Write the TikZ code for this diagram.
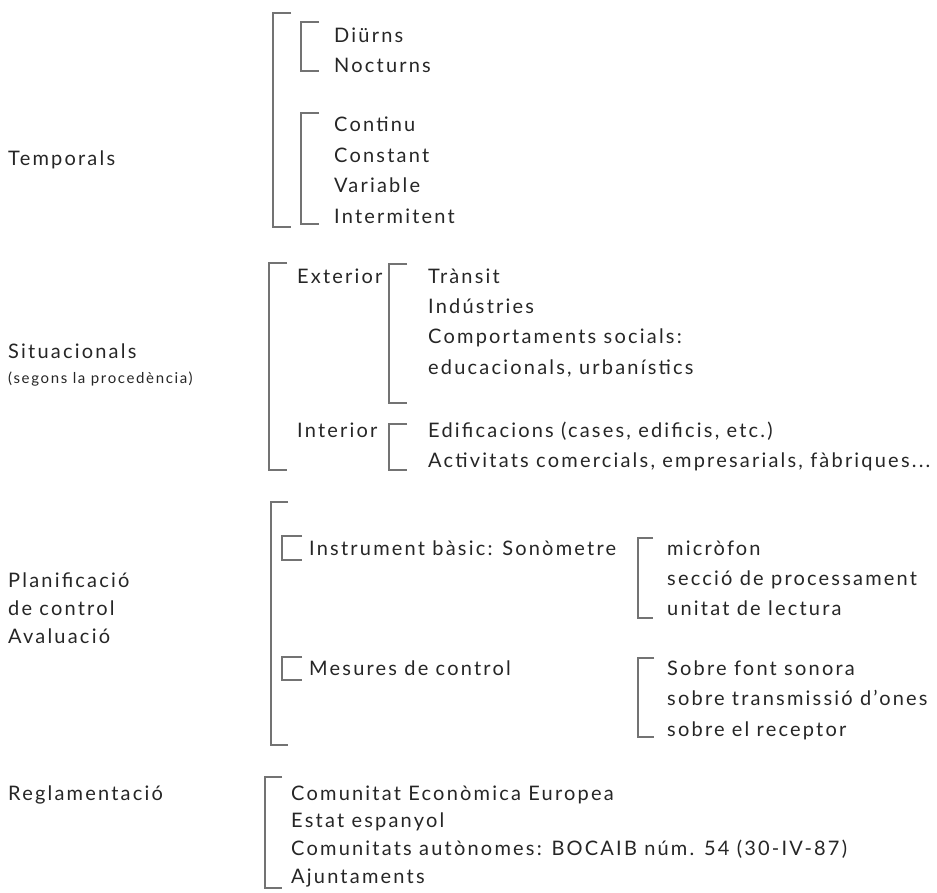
\documentclass[tikz,border=0pt]{standalone}
\usepackage{fontspec}
\setmainfont{Lato}[LetterSpace=11]
\begin{document}
\begin{tikzpicture}[x=1pt,y=-1pt,
  txt/.style={anchor=base west,inner sep=0pt,text=black!85,font=\fontsize{20}{24}\selectfont},
  small/.style={txt,font=\fontsize{15}{18}\selectfont},
  brk/.style={draw=black!55,line width=1.1pt}]
\useasboundingbox[fill=white] (0,0) rectangle (937,892);

% left column headings
\node[txt] (temp) at (8,165) {Temporals};
\node[txt] (sit) at (8,358) {Situacionals};
\node[small] (sitb) at (8,383) {(segons la procedència)};
\node[txt] (plan1) at (8,587) {Planificació};
\node[txt] (plan2) at (8,615) {de control};
\node[txt] (plan3) at (8,643) {Avaluació};
\node[txt] (regl) at (8,800) {Reglamentació};

% Temporals
\draw[brk] (291,13) -| (273,227) -- (291,227);
\draw[brk] (319,22) -| (301,71) -- (319,71);
\node[txt] (diu) at (334,42) {Diürns};
\node[txt] (noc) at (334,72) {Nocturns};
\draw[brk] (319,113) -| (301,224) -- (319,224);
\node[txt] (con) at (334,131) {Continu};
\node[txt] (cst) at (334,162) {Constant};
\node[txt] (var) at (334,192) {Variable};
\node[txt] (int) at (334,223) {Intermitent};

% Situacionals
\draw[brk] (287,263) -| (269,470) -- (287,470);
\node[txt] (ext) at (297,283) {Exterior};
\draw[brk] (407,264) -| (389,403) -- (407,403);
\node[txt] (tra) at (428,283) {Trànsit};
\node[txt] (ind) at (428,313) {Indústries};
\node[txt] (com) at (428,343) {Comportaments socials:};
\node[txt] (edu) at (428,374) {educacionals, urbanístics};
\node[txt] (inr) at (297,437) {Interior};
\draw[brk] (407,424) -| (389,470) -- (407,470);
\node[txt] (edf) at (428,437) {Edificacions (cases, edificis, etc.)};
\node[txt] (act) at (428,467) {Activitats comercials, empresarials, fàbriques...};

% Planificació de control / Avaluació
\draw[brk] (288,502) -| (271,745) -- (288,745);
\draw[brk] (302,536) -| (282,560) -- (302,560);
\node[txt] (ins) at (309,555) {Instrument bàsic: Sonòmetre};
\draw[brk] (302,657) -| (282,680) -- (302,680);
\node[txt] (mes) at (309,675) {Mesures de control};
\draw[brk] (653,538) -| (638,618) -- (653,618);
\node[txt] (mic) at (667,555) {micròfon};
\node[txt] (sec) at (667,585) {secció de processament};
\node[txt] (uni) at (667,615) {unitat de lectura};
\draw[brk] (654,658) -| (638,737) -- (654,737);
\node[txt] (sfs) at (667,675) {Sobre font sonora};
\node[txt] (sto) at (667,705) {sobre transmissió d'ones};
\node[txt] (ser) at (667,736) {sobre el receptor};

% Reglamentació
\draw[brk] (282,777) -| (265,888) -- (282,888);
\node[txt] (cee) at (291,800) {Comunitat Econòmica Europea};
\node[txt] (est) at (291,827) {Estat espanyol};
\node[txt] (cau) at (291,855) {Comunitats autònomes: BOCAIB núm. 54 (30-IV-87)};
\node[txt] (aju) at (291,883) {Ajuntaments};
\end{tikzpicture}
\end{document}
